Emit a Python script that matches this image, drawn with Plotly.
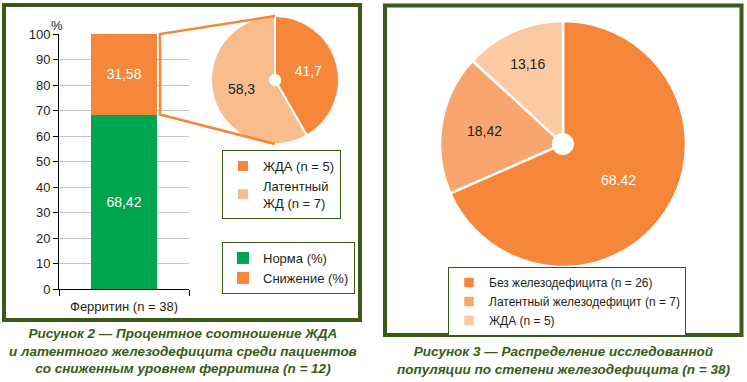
import plotly.graph_objects as go

# ---- data ----
bar_category = ["Ферритин (n = 38)"]
bar_series = ["Норма (%)", "Снижение (%)"]
bar_values = [68.42, 31.58]
bar_text = ["68,42", "31,58"]

left_pie_labels = ["ЖДА (n = 5)", "Латентный<br>ЖД (n = 7)"]
left_pie_values = [41.7, 58.3]
left_pie_text = ["41,7", "58,3"]

# trailing space keeps the label distinct from the left pie's identical label
right_pie_labels = ["Без железодефицита (n = 26)", "Латентный железодефицит (n = 7)", "ЖДА (n = 5) "]
right_pie_values = [68.42, 18.42, 13.16]
right_pie_text = ["68.42", "18,42", "13,16"]

y_ticks = [0, 10, 20, 30, 40, 50, 60, 70, 80, 90, 100]

caption_left = ("Рисунок 2 — Процентное соотношение ЖДА<br>"
                "и латентного железодефицита среди пациентов<br>"
                "со сниженным уровнем ферритина (n = 12)")
caption_right = ("Рисунок 3 — Распределение исследованной<br>"
                 "популяции по степени железодефицита (n = 38)")

# ---- layout helpers ----
W, H = 747, 382
def px(x):
    return x / W
def py(y):
    return 1 - y / H

GREEN_BORDER = "#3b5a17"
ORANGE = "#f5863a"
TXT = "#231f20"
FONT = "Liberation Sans, Arial, sans-serif"
CAP_FONT = "Liberation Sans Narrow, Arial Narrow, Liberation Sans, Arial, sans-serif"

bar_colors = ["#00a550", ORANGE]
left_pie_colors = [ORANGE, "#f9bc8c"]
right_pie_colors = [ORANGE, "#f8a66d", "#fbcaa2"]

def pie_domain(cx, cy, r):
    return dict(x=[px(cx - r), px(cx + r)], y=[py(cy + r), py(cy - r)])

fig = go.Figure()

for name, val, txt, col in zip(bar_series, bar_values, bar_text, bar_colors):
    fig.add_trace(go.Bar(
        x=bar_category, y=[val], name=name, text=[txt],
        textposition="inside", insidetextanchor="middle", textangle=0,
        textfont=dict(color="white", size=14, family=FONT),
        marker=dict(color=col, line=dict(width=0)),
        width=0.51, legend="legend2",
    ))

fig.add_trace(go.Pie(
    labels=left_pie_labels, values=left_pie_values, text=left_pie_text,
    textinfo="text", sort=False, direction="clockwise", rotation=0,
    hole=0.08, insidetextorientation="horizontal", textposition="inside",
    insidetextfont=dict(color=["white", TXT], size=14, family=FONT),
    marker=dict(colors=left_pie_colors, line=dict(color="white", width=2)),
    domain=pie_domain(275, 80, 64),
    legend="legend",
))

fig.add_trace(go.Pie(
    labels=right_pie_labels, values=right_pie_values, text=right_pie_text,
    textinfo="text", sort=False, direction="clockwise", rotation=0,
    hole=0.08, insidetextorientation="horizontal", textposition="inside",
    insidetextfont=dict(color=["white", TXT, TXT], size=14, family=FONT),
    marker=dict(colors=right_pie_colors, line=dict(color="white", width=2.5)),
    domain=pie_domain(563, 144, 123),
    legend="legend3",
))

ydom = [py(289), py(34)]
yrange = [0, 100]
def ypaper(v):
    return ydom[0] + (v - yrange[0]) / (yrange[1] - yrange[0]) * (ydom[1] - ydom[0])

bar_total = sum(bar_values)
bar_split = bar_values[0]

shapes = [
    dict(type="rect", xref="paper", yref="paper", x0=px(4), x1=px(360), y0=py(5), y1=py(320),
         line=dict(color=GREEN_BORDER, width=4), fillcolor="rgba(0,0,0,0)", layer="above"),
    dict(type="rect", xref="paper", yref="paper", x0=px(385), x1=px(741.5), y0=py(5.5), y1=py(335),
         line=dict(color=GREEN_BORDER, width=4), fillcolor="rgba(0,0,0,0)", layer="above"),
    # connector bracket from the bar's "Снижение" segment to the pie
    dict(type="path", xref="paper", yref="paper",
         path=(f"M{px(275)},{py(16)} L{px(160)},{ypaper(bar_total)} "
               f"L{px(160)},{ypaper(bar_split)} L{px(275)},{py(144)}"),
         line=dict(color=ORANGE, width=2.5), layer="above"),
]

annotations = [
    dict(text="%", x=px(57), y=py(25), xref="paper", yref="paper", showarrow=False,
         font=dict(size=13, color=TXT, family=FONT), xanchor="center", yanchor="middle"),
    dict(text=caption_left, x=px(183), y=py(351), xref="paper", yref="paper", showarrow=False,
         font=dict(size=13.5, color=GREEN_BORDER, family=CAP_FONT, weight="bold", style="italic"),
         xanchor="center", yanchor="middle", align="center"),
    dict(text=caption_right, x=px(563), y=py(360), xref="paper", yref="paper", showarrow=False,
         font=dict(size=13.5, color=GREEN_BORDER, family=CAP_FONT, weight="bold", style="italic"),
         xanchor="center", yanchor="middle", align="center"),
]

legend_common = dict(
    bgcolor="white", bordercolor=GREEN_BORDER, borderwidth=1,
    xanchor="left", yanchor="top", xref="paper", yref="paper",
    traceorder="normal", itemclick=False, itemdoubleclick=False,
)

fig.update_layout(
    width=W, height=H,
    margin=dict(l=0, r=0, t=0, b=0, autoexpand=False),
    paper_bgcolor="white", plot_bgcolor="white",
    barmode="stack",
    font=dict(family=FONT, color=TXT, size=13),
    showlegend=True,
    legend=dict(x=px(222), y=py(150), font=dict(size=13, color=TXT, family=FONT), **legend_common),
    legend2=dict(x=px(222), y=py(242), font=dict(size=13, color=TXT, family=FONT), **legend_common),
    legend3=dict(x=px(448), y=py(267), font=dict(size=12, color=TXT, family=FONT), **legend_common),
    xaxis=dict(domain=[px(59), px(189)], showline=True, linecolor="black", linewidth=1,
               ticks="outside", tickson="boundaries", ticklen=6, tickcolor="black",
               ticklabelstandoff=5, automargin=False,
               tickfont=dict(size=13, color=TXT), showgrid=False, fixedrange=True),
    yaxis=dict(domain=ydom, range=yrange, tickvals=y_ticks, showline=True, linecolor="black",
               linewidth=1, ticks="outside", ticklen=5, tickcolor="black", automargin=False,
               tickfont=dict(size=13, color=TXT), showgrid=True, gridcolor="#c4c4c4",
               gridwidth=1, zeroline=False, fixedrange=True),
    shapes=shapes,
    annotations=annotations,
)

fig.write_html("out.html", config={"displayModeBar": False},
               post_script="document.body.style.margin='0px';")
